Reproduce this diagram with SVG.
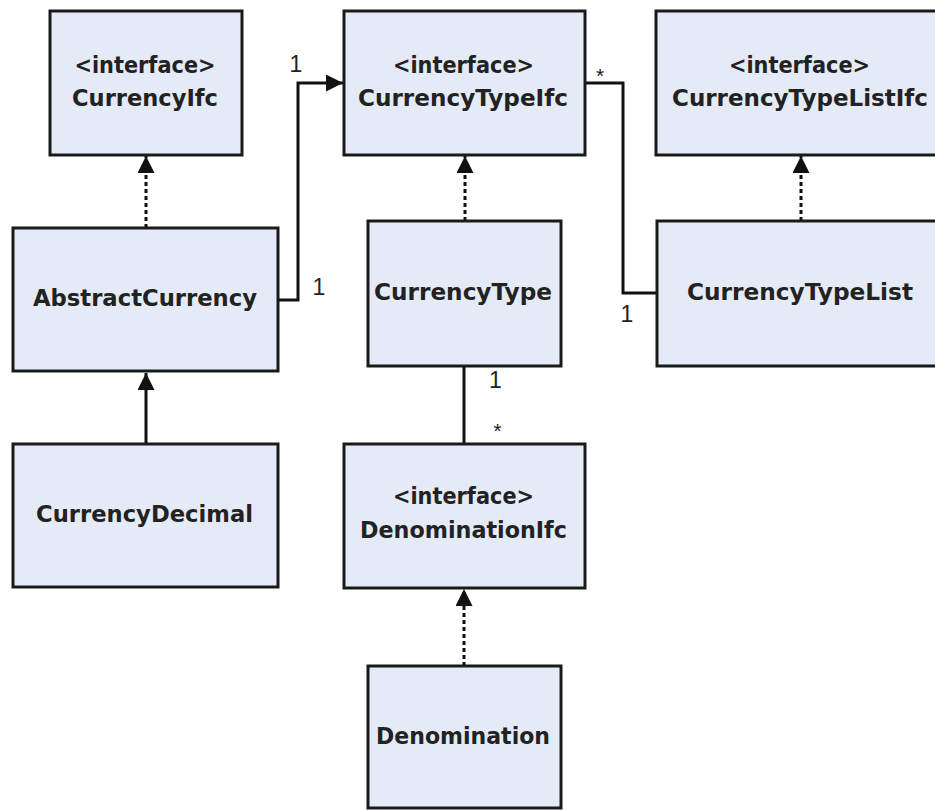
<svg xmlns="http://www.w3.org/2000/svg" width="935" height="810" viewBox="0 0 935 810">
<style>
.box{fill:#E5EBF6;stroke:#1a1a1a;stroke-width:3}
.t{font-family:"DejaVu Sans","Liberation Sans",sans-serif;font-weight:bold;font-size:23px;fill:#222;text-anchor:middle}
.lbl{font-family:"Liberation Sans",Arial,sans-serif;font-size:23px;fill:#222;text-anchor:middle}
.star{font-family:"Liberation Sans",Arial,sans-serif;font-size:21px;fill:#222;text-anchor:middle}
.c{fill:none;stroke:#111;stroke-width:3}
.d{stroke-dasharray:4 3}
</style>
<defs>
<marker id="ah" viewBox="0 0 17 17" refX="17" refY="8.5" markerWidth="17" markerHeight="17" markerUnits="userSpaceOnUse" orient="auto"><path d="M0,0 L17,8.5 L0,17 z" fill="#111"/></marker>
</defs>
<rect width="935" height="810" fill="#fff"/>
<g id="connectors">
<path class="c d" d="M146,228 V156" marker-end="url(#ah)"/>
<path class="c" d="M146,444 V373" marker-end="url(#ah)"/>
<path class="c d" d="M465,221 V156" marker-end="url(#ah)"/>
<path class="c d" d="M801,221 V156" marker-end="url(#ah)"/>
<path class="c d" d="M464,666 V589" marker-end="url(#ah)"/>
<path class="c" d="M278,300 H298 V83 H343" marker-end="url(#ah)"/>
<path class="c" d="M585,83 H623 V293 H657"/>
<path class="c" d="M464,366 V444"/>
<text class="lbl" x="296" y="72">1</text>
<text class="lbl" x="319" y="295">1</text>
<text class="star" x="600" y="83">*</text>
<text class="lbl" x="627" y="322">1</text>
<text class="lbl" x="495.5" y="388">1</text>
<text class="star" x="497.5" y="438">*</text>
</g>
<g id="CurrencyIfc">
<rect class="box" x="50" y="11" width="192" height="144"/>
<text class="t" x="145" y="73" textLength="141" lengthAdjust="spacingAndGlyphs">&lt;interface&gt;</text>
<text class="t" x="145" y="106" textLength="146" lengthAdjust="spacingAndGlyphs">CurrencyIfc</text>
</g>
<g id="CurrencyTypeIfc">
<rect class="box" x="344" y="11" width="241" height="144"/>
<text class="t" x="463.5" y="73" textLength="141" lengthAdjust="spacingAndGlyphs">&lt;interface&gt;</text>
<text class="t" x="463" y="106" textLength="210" lengthAdjust="spacingAndGlyphs">CurrencyTypeIfc</text>
</g>
<g id="CurrencyTypeListIfc">
<rect class="box" x="656" y="11" width="290" height="144"/>
<text class="t" x="799.5" y="73" textLength="141" lengthAdjust="spacingAndGlyphs">&lt;interface&gt;</text>
<text class="t" x="800" y="106" textLength="256" lengthAdjust="spacingAndGlyphs">CurrencyTypeListIfc</text>
</g>
<g id="AbstractCurrency">
<rect class="box" x="13" y="228" width="265" height="143"/>
<text class="t" x="145" y="306" textLength="224" lengthAdjust="spacingAndGlyphs">AbstractCurrency</text>
</g>
<g id="CurrencyType">
<rect class="box" x="368" y="221" width="193" height="145"/>
<text class="t" x="463" y="300" textLength="178" lengthAdjust="spacingAndGlyphs">CurrencyType</text>
</g>
<g id="CurrencyTypeList">
<rect class="box" x="657" y="221" width="290" height="145"/>
<text class="t" x="800" y="300" textLength="226" lengthAdjust="spacingAndGlyphs">CurrencyTypeList</text>
</g>
<g id="CurrencyDecimal">
<rect class="box" x="13" y="444" width="265" height="143"/>
<text class="t" x="144.5" y="522" textLength="217" lengthAdjust="spacingAndGlyphs">CurrencyDecimal</text>
</g>
<g id="DenominationIfc">
<rect class="box" x="344" y="444" width="241" height="144"/>
<text class="t" x="463.5" y="504" textLength="141" lengthAdjust="spacingAndGlyphs">&lt;interface&gt;</text>
<text class="t" x="463.5" y="538" textLength="207" lengthAdjust="spacingAndGlyphs">DenominationIfc</text>
</g>
<g id="Denomination">
<rect class="box" x="368" y="666" width="193" height="142"/>
<text class="t" x="463" y="744" textLength="174" lengthAdjust="spacingAndGlyphs">Denomination</text>
</g>
</svg>
